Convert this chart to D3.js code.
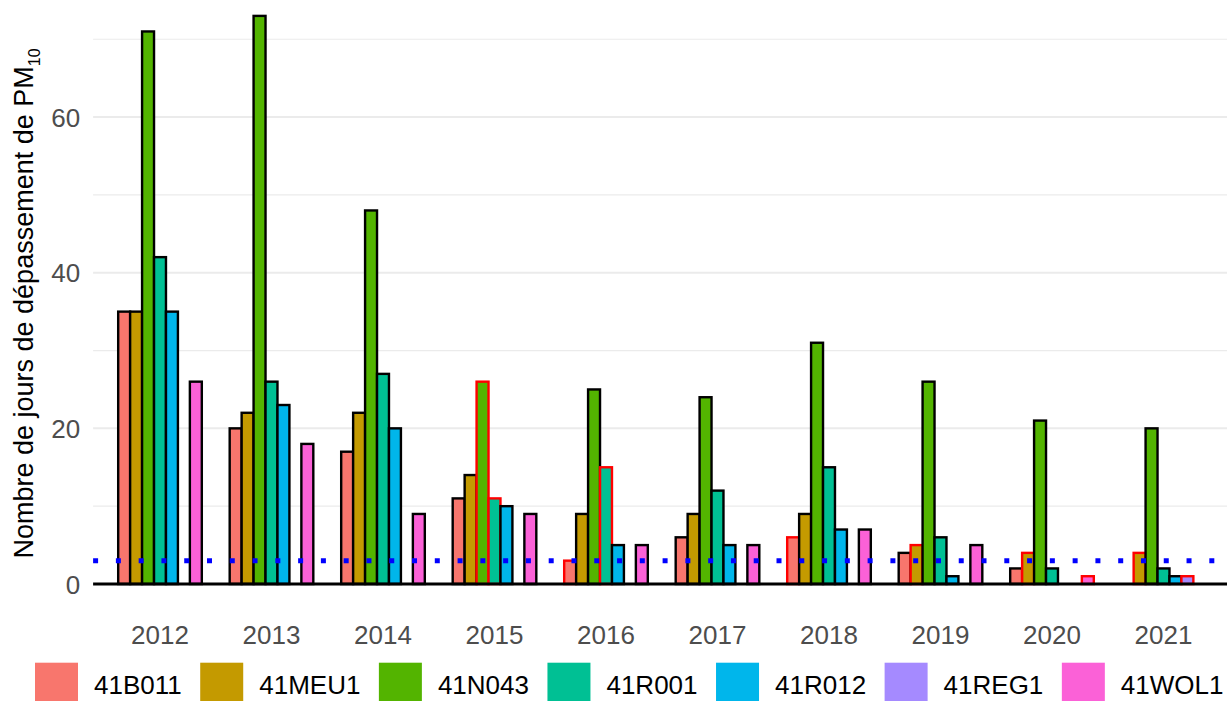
<!DOCTYPE html>
<html>
<head>
<meta charset="utf-8">
<script src="https://cdn.jsdelivr.net/npm/d3@7"></script>
<style>
  html, body { margin: 0; padding: 0; background: #fff; }
  svg { display: block; font-family: "Liberation Sans", Arial, sans-serif; }
</style>
</head>
<body>
<svg id="chart" width="1227" height="701"></svg>
<script>
// ---- data ----
const years = ["2012","2013","2014","2015","2016","2017","2018","2019","2020","2021"];
const stations = ["41B011","41MEU1","41N043","41R001","41R012","41REG1","41WOL1"];
const colors = ["#F8766D","#C49A00","#53B400","#00C094","#00B6EB","#A58AFF","#FB61D7"];
// values per station, in year order (null = no bar)
const v41B011 = [35, 20, 17, 11, 3, 6, 6, 4, 2, null];
const v41MEU1 = [35, 22, 22, 14, 9, 9, 9, 5, 4, 4];
const v41N043 = [71, 73, 48, 26, 25, 24, 31, 26, 21, 20];
const v41R001 = [42, 26, 27, 11, 15, 12, 15, 6, 2, 2];
const v41R012 = [35, 23, 20, 10, 5, 5, 7, 1, null, 1];
const v41REG1 = [null, null, null, null, null, null, null, null, null, 1];
const v41WOL1 = [26, 18, 9, 9, 5, 5, 7, 5, 1, null];
// bars drawn with red outline (station|year)
const flagged = ["41N043|2015","41R001|2015","41B011|2016","41R001|2016","41B011|2018",
                 "41MEU1|2019","41MEU1|2020","41WOL1|2020","41MEU1|2021","41REG1|2021"];
const threshold = 3;
const yTicks = [0, 20, 40, 60];
const yMinor = [10, 30, 50, 70];
const yTitle = "Nombre de jours de dépassement de PM";
const yTitleSub = "10";

const series = [v41B011, v41MEU1, v41N043, v41R001, v41R012, v41REG1, v41WOL1];
const rows = [];
years.forEach((yr, yi) => {
  stations.forEach((st, si) => {
    const val = series[si][yi];
    if (val !== null && val !== undefined) rows.push({year: yr, station: st, value: val});
  });
});

// ---- layout ----
const svg = d3.select("#chart");
const font = '"Liberation Sans", Arial, sans-serif';
const x = d3.scaleBand().domain(years).range([104.25, 1219.25]).paddingInner(0.25).paddingOuter(0.125);
const xs = d3.scaleBand().domain(stations).range([0, x.bandwidth()]).padding(0);
const y = d3.scaleLinear().domain([0, 73.5]).range([584, 12]);
const color = d3.scaleOrdinal().domain(stations).range(colors);
const step = x.step();
const panelLeft = x(years[0]) + x.bandwidth()/2 - 0.6*step;
const panelRight = x(years[years.length-1]) + x.bandwidth()/2 + 0.6*step;

// gridlines
svg.append("g").selectAll("line").data(yMinor).join("line")
  .attr("x1", panelLeft).attr("x2", panelRight)
  .attr("y1", d => y(d)).attr("y2", d => y(d))
  .attr("stroke", "#EBEBEB").attr("stroke-width", 1.2);
svg.append("g").selectAll("line").data(yTicks).join("line")
  .attr("x1", panelLeft).attr("x2", panelRight)
  .attr("y1", d => y(d)).attr("y2", d => y(d))
  .attr("stroke", "#EBEBEB").attr("stroke-width", 2);

// bars
svg.append("g").selectAll("rect").data(rows).join("rect")
  .attr("x", d => x(d.year) + xs(d.station))
  .attr("width", xs.bandwidth())
  .attr("y", d => y(d.value))
  .attr("height", d => y(0) - y(d.value))
  .attr("fill", d => color(d.station))
  .attr("stroke", d => flagged.includes(d.station + "|" + d.year) ? "#FF0000" : "#000000")
  .attr("stroke-width", 2.4);

// threshold line
svg.append("line")
  .attr("x1", panelLeft).attr("x2", panelRight)
  .attr("y1", y(threshold)).attr("y2", y(threshold))
  .attr("stroke", "#0000FF").attr("stroke-width", 5)
  .attr("stroke-dasharray", "5 17.78");

// x axis line
svg.append("line")
  .attr("x1", panelLeft).attr("x2", panelRight)
  .attr("y1", y(0)).attr("y2", y(0))
  .attr("stroke", "#000").attr("stroke-width", 2.8);

// x axis labels
const gx = svg.append("g").attr("transform", `translate(0,${y(0)})`)
  .call(d3.axisBottom(x).tickSize(0).tickPadding(42));
gx.select(".domain").remove();
gx.selectAll("text").attr("font-size", 26).attr("fill", "#4D4D4D").attr("font-family", font);

// y axis labels
const gy = svg.append("g").attr("transform", `translate(${panelLeft},0)`)
  .call(d3.axisLeft(y).tickValues(yTicks).tickSize(0).tickPadding(13));
gy.select(".domain").remove();
gy.selectAll("text").attr("font-size", 26).attr("fill", "#4D4D4D").attr("font-family", font).attr("dy", "0.35em");

// y title
const t = svg.append("text")
  .attr("transform", "translate(33,303.5) rotate(-90)")
  .attr("text-anchor", "middle")
  .attr("font-size", 27).attr("fill", "#000").attr("font-family", font);
t.append("tspan").text(yTitle);
t.append("tspan").attr("font-size", 16).attr("dy", 7).text(yTitleSub);

// legend
const lg = svg.append("g");
const items = lg.selectAll("g").data(stations).join("g");
items.append("rect").attr("width", 43).attr("height", 43).attr("y", 662.7)
  .attr("fill", d => color(d));
items.append("text").attr("x", 59).attr("y", 694.3)
  .attr("font-size", 26).attr("fill", "#000").attr("font-family", font).text(d => d);
let cx = 35;
items.each(function() {
  const g = d3.select(this);
  g.attr("transform", `translate(${cx},0)`);
  const w = g.select("text").node().getComputedTextLength();
  cx += 59 + w + 18.5;
});
</script>
</body>
</html>
